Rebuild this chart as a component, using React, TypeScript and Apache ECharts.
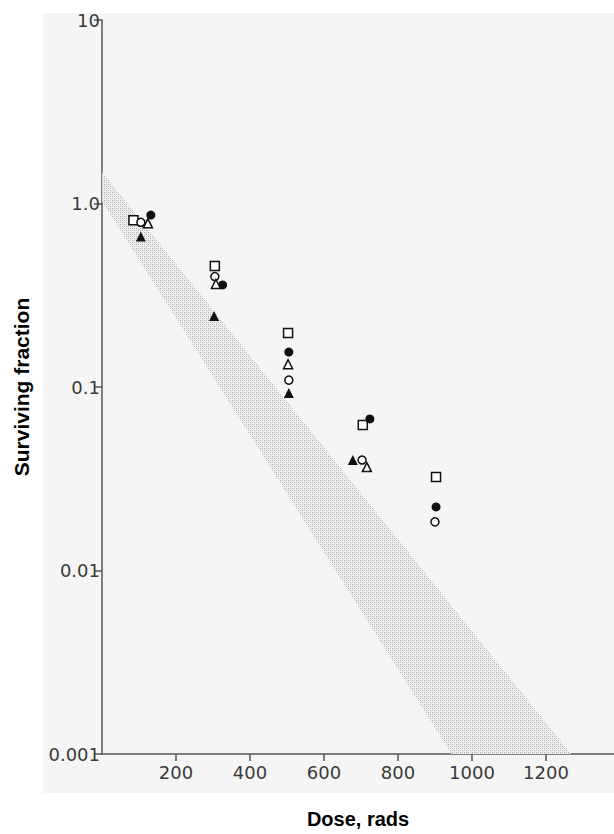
import React, { useEffect, useRef } from "react";
import * as echarts from "echarts";

// ---- data ----
const xTickValues = [200, 400, 600, 800, 1000, 1200];
const yTickLabels = ["0.001", "0.01", "0.1", "1.0", "10"]; // decades 10^-3 .. 10^1

const openSquare = [
  [85, 0.81],
  [305, 0.456],
  [503, 0.197],
  [705, 0.062],
  [903, 0.0323],
];
const filledCircle = [
  [132, 0.865],
  [326, 0.36],
  [505, 0.155],
  [724, 0.067],
  [903, 0.0222],
];
const openCircle = [
  [105, 0.79],
  [305, 0.4],
  [505, 0.109],
  [703, 0.04],
  [900, 0.0184],
];
const openTriangle = [
  [124, 0.78],
  [308, 0.364],
  [503, 0.133],
  [716, 0.0366],
];
const filledTriangle = [
  [105, 0.66],
  [303, 0.244],
  [505, 0.0927],
  [678, 0.04],
];

// shaded band: upper and lower boundary lines (dose, surviving fraction)
const bandUpper = [
  [0, 1.48],
  [1268, 0.001],
];
const bandLower = [
  [0, 1.03],
  [945, 0.001],
];

const FONT_TICK = "DejaVu Sans";
const FONT_TITLE = "Liberation Sans";

function makeHatch(): string | null {
  try {
    const c = document.createElement("canvas");
    c.width = 4;
    c.height = 4;
    const ctx = c.getContext("2d");
    if (!ctx) return null;
    ctx.fillStyle = "#efefef";
    ctx.fillRect(0, 0, 4, 4);
    ctx.fillStyle = "#aaaaaa";
    ctx.fillRect(0, 0, 1, 1);
    ctx.fillRect(2, 2, 1, 1);
    ctx.fillStyle = "#c6c6c6";
    ctx.fillRect(2, 0, 1, 1);
    ctx.fillRect(0, 2, 1, 1);
    return c.toDataURL("image/png");
  } catch (e) {
    return null;
  }
}

export default function App() {
  const ref = useRef<HTMLDivElement>(null);

  useEffect(() => {
    if (!ref.current) return;
    const chart = echarts.init(ref.current, undefined, { renderer: "svg" });
    const hatch = makeHatch();
    const bandFill: any = hatch
      ? { image: hatch, repeat: "repeat", imageWidth: 4, imageHeight: 4 }
      : "#d4d4d4";

    const markerSeries = (
      name: string,
      data: number[][],
      symbol: string,
      filled: boolean,
      size: number
    ) => ({
      name,
      type: "scatter",
      data,
      symbol,
      symbolSize: size,
      z: 5,
      itemStyle: {
        color: filled ? "#111" : "#fff",
        borderColor: "#111",
        borderWidth: filled ? 0 : 1.5,
        opacity: 1,
      },
    });

    chart.setOption({
      animation: false,
      backgroundColor: "#ffffff",
      graphic: [
        {
          type: "rect",
          left: 43,
          top: 13,
          shape: { width: 571, height: 780 },
          style: { fill: "#f5f5f5" },
          z: -10,
          silent: true,
        },
      ],
      grid: { left: 102, top: 20, width: 512, height: 734, containLabel: false },
      xAxis: {
        type: "value",
        min: 0,
        max: 1384,
        name: "Dose, rads",
        nameLocation: "middle",
        nameGap: 55,
        nameTextStyle: {
          fontFamily: FONT_TITLE,
          fontWeight: "bold",
          fontSize: 20,
          color: "#000",
        },
        axisLine: { show: true, lineStyle: { color: "#555", width: 1.5 } },
        axisTick: {
          show: true,
          inside: false,
          length: 7,
          customValues: xTickValues,
          lineStyle: { color: "#555", width: 1.5 },
        },
        axisLabel: {
          customValues: xTickValues,
          margin: 9,
          fontFamily: FONT_TICK,
          fontSize: 18,
          color: "#3a3a3a",
          formatter: (v: number) => String(v),
        },
        splitLine: { show: false },
      },
      yAxis: {
        type: "log",
        logBase: 10,
        min: 0.001,
        max: 10,
        name: "Surviving fraction",
        nameLocation: "middle",
        nameRotate: 90,
        nameGap: 70,
        nameTextStyle: {
          fontFamily: FONT_TITLE,
          fontWeight: "bold",
          fontSize: 21,
          color: "#000",
        },
        axisLine: { show: true, lineStyle: { color: "#555", width: 1.5 } },
        axisTick: {
          show: true,
          inside: false,
          length: 8,
          lineStyle: { color: "#555", width: 1.5 },
        },
        axisLabel: {
          margin: 2,
          fontFamily: FONT_TICK,
          fontSize: 18,
          color: "#3a3a3a",
          formatter: (v: number) => {
            const i = Math.round(Math.log10(v)) + 3;
            return yTickLabels[i] ?? "";
          },
        },
        minorTick: { show: false },
        splitLine: { show: false },
      },
      series: [
        {
          name: "band",
          type: "custom",
          z: 1,
          silent: true,
          data: [[0, 1]],
          encode: { x: 0, y: 1 },
          renderItem: (_params: any, api: any) => {
            const pts = [
              api.coord(bandUpper[0]),
              api.coord(bandUpper[1]),
              api.coord(bandLower[1]),
              api.coord(bandLower[0]),
            ];
            return {
              type: "polygon",
              shape: { points: pts },
              style: { fill: bandFill },
            };
          },
        },
        markerSeries("open square", openSquare, "rect", false, 9),
        markerSeries("filled circle", filledCircle, "circle", true, 9),
        markerSeries("open circle", openCircle, "circle", false, 8),
        markerSeries("open triangle", openTriangle, "triangle", false, 9),
        markerSeries("filled triangle", filledTriangle, "triangle", true, 10),
      ],
    });

    return () => chart.dispose();
  }, []);

  return (
    <div
      ref={ref}
      style={{ position: "fixed", left: 0, top: 0, width: 614, height: 834 }}
    />
  );
}
